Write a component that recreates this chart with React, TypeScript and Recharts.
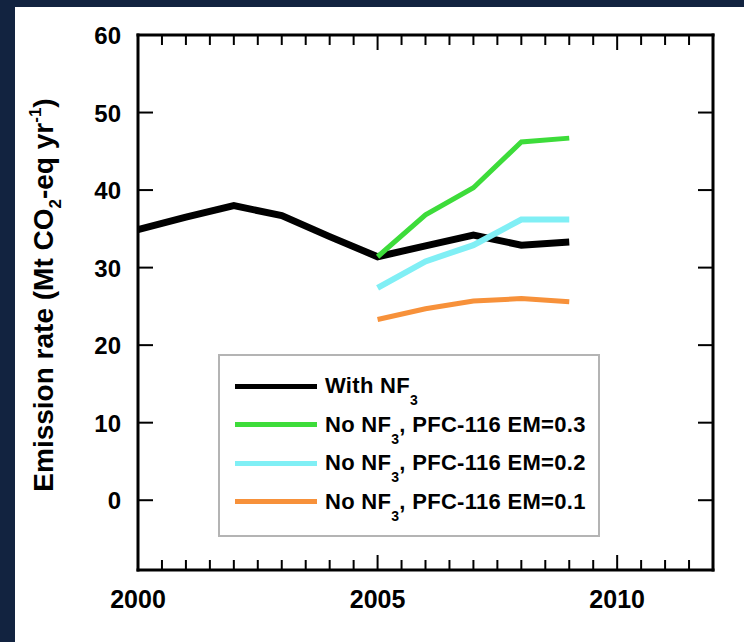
import * as React from "react";
import { LineChart, Line, XAxis, YAxis } from "recharts";

const years = [2000, 2001, 2002, 2003, 2004, 2005, 2006, 2007, 2008, 2009];
const withNF3 = [34.9, 36.5, 38.0, 36.7, 34.0, 31.4, 32.8, 34.2, 32.9, 33.3];
const noNF3em03 = [null, null, null, null, null, 31.4, 36.8, 40.3, 46.2, 46.7];
const noNF3em02 = [null, null, null, null, null, 27.4, 30.8, 32.9, 36.2, 36.2];
const noNF3em01 = [null, null, null, null, null, 23.3, 24.7, 25.7, 26.0, 25.6];

const xMajor = [2000, 2005, 2010];
const xMinor = Array.from({ length: 25 }, (_, i) => 2000 + i * 0.5);
const yTicks = [0, 10, 20, 30, 40, 50, 60];

const series = [
  { key: "withNF3", label: "With NF", sub: "3", rest: "", color: "#000000", width: 7 },
  { key: "em03", label: "No NF", sub: "3", rest: ", PFC-116 EM=0.3", color: "#3ddc3a", width: 5 },
  { key: "em02", label: "No NF", sub: "3", rest: ", PFC-116 EM=0.2", color: "#80eff5", width: 6 },
  { key: "em01", label: "No NF", sub: "3", rest: ", PFC-116 EM=0.1", color: "#f7913a", width: 5 },
];

const data = years.map((t, i) => ({
  t,
  withNF3: withNF3[i],
  em03: noNF3em03[i],
  em02: noNF3em02[i],
  em01: noNF3em01[i],
}));

const font = "'Liberation Sans', Arial, Helvetica, sans-serif";

function BottomTick({ x, y, payload }: any) {
  const major = xMajor.includes(payload.value);
  return (
    <g>
      <line x1={x} x2={x} y1={y} y2={y - (major ? 15 : 10)} stroke="#000" strokeWidth={2} />
      {major && (
        <text x={x} y={y + 38} textAnchor="middle" fontSize={25} fontWeight="bold" fontFamily={font} fill="#000">
          {payload.value}
        </text>
      )}
    </g>
  );
}

function TopTick({ x, y, payload }: any) {
  const major = xMajor.includes(payload.value);
  return <line x1={x} x2={x} y1={y} y2={y + (major ? 15 : 10)} stroke="#000" strokeWidth={2} />;
}

function LeftTick({ x, y, payload }: any) {
  return (
    <g>
      <line x1={x} x2={x + 15} y1={y} y2={y} stroke="#000" strokeWidth={2} />
      <text x={x - 17} y={y + 9} textAnchor="end" fontSize={24} fontWeight="bold" fontFamily={font} fill="#000">
        {payload.value}
      </text>
    </g>
  );
}

function RightTick({ x, y }: any) {
  return <line x1={x} x2={x - 15} y1={y} y2={y} stroke="#000" strokeWidth={2} />;
}

function YTitle() {
  const cx = 53;
  const cy = 295;
  return (
    <text
      x={cx}
      y={cy}
      transform={`rotate(-90, ${cx}, ${cy})`}
      textAnchor="middle"
      fontSize={28}
      fontWeight="bold"
      fontFamily={font}
      fill="#000"
    >
      Emission rate (Mt CO
      <tspan fontSize={17} dy={8}>2</tspan>
      <tspan dy={-8}>-eq yr</tspan>
      <tspan fontSize={17} dy={-12}>-1</tspan>
      <tspan dy={12}>)</tspan>
    </text>
  );
}

function LegendBox() {
  return (
    <div
      style={{
        position: "absolute",
        left: 218,
        top: 354,
        width: 382,
        height: 183,
        border: "2px solid #b4b4b4",
        boxSizing: "border-box",
        background: "#fff",
        paddingTop: 11,
        fontFamily: font,
      }}
    >
      {series.map((s) => (
        <div key={s.key} style={{ display: "flex", alignItems: "center", height: 38.5 }}>
          <div style={{ marginLeft: 15, width: 82, height: 5, background: s.color }} />
          <div
            style={{
              marginLeft: 8,
              fontSize: 22,
              letterSpacing: 0.3,
              fontWeight: "bold",
              color: "#000",
              whiteSpace: "nowrap",
            }}
          >
            {s.label}
            <span style={{ fontSize: 14, position: "relative", top: 12 }}>{s.sub}</span>
            {s.rest}
          </div>
        </div>
      ))}
    </div>
  );
}

export default function App() {
  return (
    <div style={{ position: "fixed", left: 0, top: 0, width: 744, height: 642, background: "#122340" }}>
      <div style={{ position: "absolute", left: 15, top: 7, width: 729, height: 635, background: "#ffffff" }} />
      <div style={{ position: "absolute", left: 0, top: 0 }}>
        <LineChart width={744} height={642} data={data} margin={{ top: 34, right: 30, bottom: 22, left: 78 }}>
          <XAxis
            xAxisId="bottom"
            dataKey="t"
            type="number"
            domain={[2000, 2012]}
            ticks={xMinor}
            interval={0}
            height={50}
            tickSize={0}
            tickMargin={0}
            tickLine={false}
            tick={<BottomTick />}
            axisLine={{ stroke: "#000", strokeWidth: 3, strokeLinecap: "square" }}
            allowDataOverflow
          />
          <XAxis
            xAxisId="top"
            orientation="top"
            dataKey="t"
            type="number"
            domain={[2000, 2012]}
            ticks={xMinor}
            interval={0}
            height={1}
            tickSize={0}
            tickMargin={0}
            tickLine={false}
            tick={<TopTick />}
            axisLine={{ stroke: "#000", strokeWidth: 3, strokeLinecap: "square" }}
            allowDataOverflow
          />
          <YAxis
            yAxisId="left"
            type="number"
            domain={[-9, 60]}
            ticks={yTicks}
            interval={0}
            width={60}
            tickSize={0}
            tickMargin={0}
            tickLine={false}
            tick={<LeftTick />}
            axisLine={{ stroke: "#000", strokeWidth: 3, strokeLinecap: "square" }}
            label={{ content: <YTitle /> }}
            allowDataOverflow
          />
          <YAxis
            yAxisId="right"
            orientation="right"
            type="number"
            domain={[-9, 60]}
            ticks={yTicks}
            interval={0}
            width={1}
            tickSize={0}
            tickMargin={0}
            tickLine={false}
            tick={<RightTick />}
            axisLine={{ stroke: "#000", strokeWidth: 3, strokeLinecap: "square" }}
            allowDataOverflow
          />
          {series.map((s) => (
            <Line
              key={s.key}
              xAxisId="bottom"
              yAxisId="left"
              type="linear"
              dataKey={s.key}
              stroke={s.color}
              strokeWidth={s.width}
              dot={false}
              activeDot={false}
              isAnimationActive={false}
            />
          ))}
        </LineChart>
      </div>
      <LegendBox />
    </div>
  );
}
